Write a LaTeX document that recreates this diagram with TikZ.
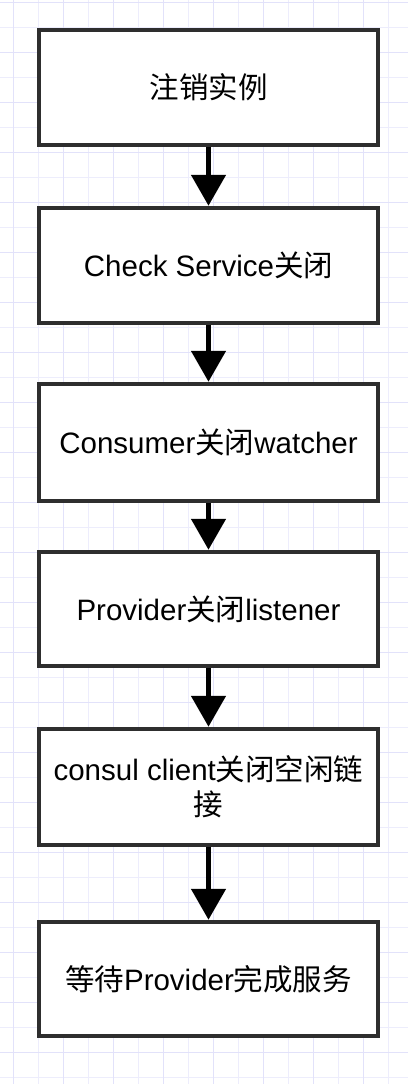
\documentclass[tikz,border=0pt]{standalone}
\usepackage{fontspec}
\setmainfont{Liberation Sans}
\newfontfamily\cjk{Noto Sans CJK SC}
\usetikzlibrary{arrows.meta}
\definecolor{gitterfein}{RGB}{237,237,252}
\definecolor{gittergrob}{RGB}{226,226,250}
\tikzstyle{schritt}=[draw=black!82,line width=4.5pt,fill=white,rectangle,minimum width=339pt,inner sep=0pt,align=center,font=\fontsize{29.5}{35}\selectfont]
\tikzstyle{pfeil}=[line width=5pt,-{Triangle[width=34pt,length=31pt]}]

\begin{document}
\begin{tikzpicture}[x=1pt,y=-1pt]
			% Rahmen festlegen
			\useasboundingbox[fill=white] (0,0) rectangle (408,1084);
			% Gitter zeichnen
			\foreach \x in {38,88,...,413}
				\draw[gitterfein,line width=1pt] (\x,0) -- (\x,1084);
			\foreach \y in {27,77,...,1084}
				\draw[gitterfein,line width=1pt] (0,\y) -- (408,\y);
			\foreach \x in {13,63,...,413}
				\draw[gittergrob,line width=1pt] (\x,0) -- (\x,1084);
			\foreach \y in {2,52,...,1084}
				\draw[gittergrob,line width=1pt] (0,\y) -- (408,\y);
			% Schritte zeichnen
			\node[schritt,minimum height=115pt] (abmelden) at (208.5,87.5) {\cjk 注销实例};
			\node[schritt,minimum height=115pt] (check) at (208.5,265.5) {Check Service{\cjk 关闭}};
			\node[schritt,minimum height=117pt] (consumer) at (208.5,442.5) {Consumer{\cjk 关闭}watcher};
			\node[schritt,minimum height=114pt] (provider) at (208.5,609) {Provider{\cjk 关闭}listener};
			\node[schritt,minimum height=116pt] (consul) at (208.5,787) {consul client{\cjk 关闭空闲链}\\{\cjk 接}};
			\node[schritt,minimum height=114pt] (warten) at (208.5,979) {{\cjk 等待}Provider{\cjk 完成服务}};
			% Pfeile zeichnen
			\draw[pfeil] (abmelden) -- (check);
			\draw[pfeil] (check) -- (consumer);
			\draw[pfeil] (consumer) -- (provider);
			\draw[pfeil] (provider) -- (consul);
			\draw[pfeil] (consul) -- (warten);
		\end{tikzpicture}
\end{document}
